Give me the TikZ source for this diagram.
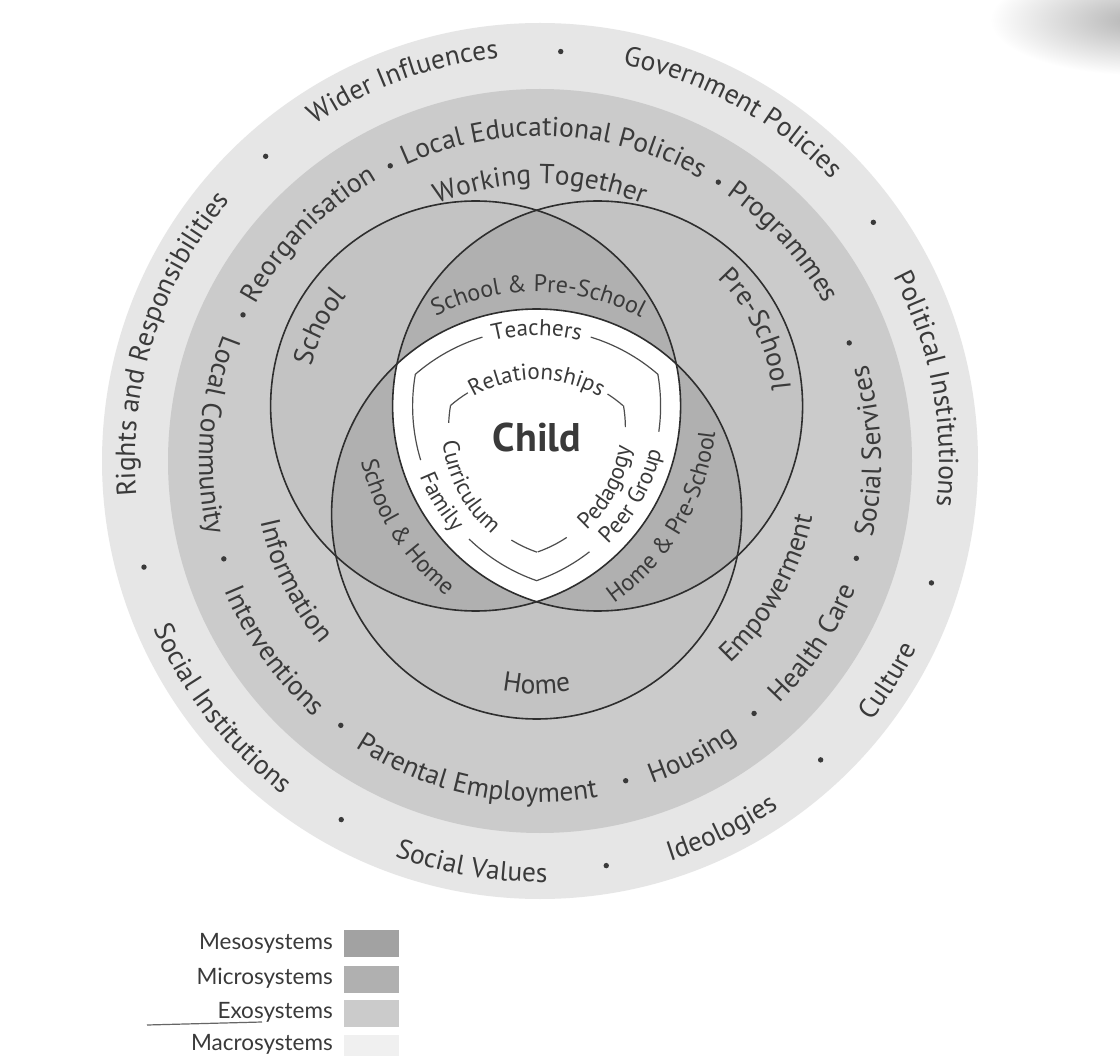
\documentclass[tikz,border=0pt]{standalone}
\usepackage{fontspec}
\setmainfont{PT Sans}
\newfontfamily\legfont{Lato}
\usetikzlibrary{decorations.text}
\definecolor{txt}{HTML}{3A3A3A}
\definecolor{macroc}{HTML}{E6E6E6}
\definecolor{exoc}{HTML}{CBCBCB}
\definecolor{microc}{HTML}{C3C3C3}
\definecolor{mesoc}{HTML}{B0B0B0}
\definecolor{lineclr}{HTML}{2E2E2E}
\newcommand\ringf{\color{txt}\fontsize{27.5}{33}\selectfont}
\newcommand\pairf{\color{txt}\fontsize{24}{29}\selectfont}
\newcommand\shieldf{\color{txt}\fontsize{23}{28}\selectfont}
\newcommand\arccw[4]{\path[decorate,decoration={text along path,text align=center,text={#4}}] (#1) ++({#3+75}:#2) arc[start angle={#3+75},end angle={#3-75},radius=#2];}
\newcommand\arcccw[4]{\path[decorate,decoration={text along path,text align=center,text={#4}}] (#1) ++({#3-75}:#2) arc[start angle={#3-75},end angle={#3+75},radius=#2];}
\tikzset{
  venn/.style={draw=lineclr,line width=1.6pt},
  shieldline/.style={draw=lineclr!85,line width=1.2pt},
  ringdot/.style={fill=txt},
  legtext/.style={font=\legfont\fontsize{22.5}{27}\selectfont,text=txt,anchor=east,inner sep=0pt},
  swatch/.style={anchor=west,minimum width=55pt,minimum height=27pt,inner sep=0pt},
}
\begin{document}
\begin{tikzpicture}[x=1pt,y=1pt]
\useasboundingbox (0,0) rectangle (1120,-1056);
\fill[white] (0,0) rectangle (1120,-1056);
\begin{scope}
\clip (0,0) rectangle (1120,-1056);
\shade[inner color=black!30,outer color=white] (1140,-20) ellipse[x radius=150,y radius=55];
\end{scope}
\coordinate (C) at (540,-461);
\coordinate (S) at (475.6,-406);
\coordinate (P) at (597.6,-406);
\coordinate (H) at (536.6,-514);
\coordinate (H2) at (536.7,-504.7);
\coordinate (P2) at (580,-428);
\coordinate (S2) at (494,-428);
% rings
\fill[macroc] (C) circle[radius=438];
\fill[exoc] (C) circle[radius=372];
% venn fills
\fill[microc] (S) circle[radius=205];
\fill[microc] (P) circle[radius=205];
\fill[microc] (H) circle[radius=205];
\begin{scope}\clip (S) circle[radius=205]; \fill[mesoc] (P) circle[radius=205]; \fill[mesoc] (H) circle[radius=205];\end{scope}
\begin{scope}\clip (P) circle[radius=205]; \fill[mesoc] (H) circle[radius=205];\end{scope}
\begin{scope}\clip (S) circle[radius=205]; \clip (P) circle[radius=205]; \fill[white] (H) circle[radius=205];\end{scope}
\draw[venn] (S) circle[radius=205];
\draw[venn] (P) circle[radius=205];
\draw[venn] (H) circle[radius=205];
% outer shield line
\draw[shieldline] (H) ++(131:185) arc[start angle=131,end angle=107,radius=185];
\draw[shieldline] (H) ++(73:185) arc[start angle=73,end angle=49,radius=185];
\draw[shieldline] (P) ++(170.1:185) arc[start angle=170.1,end angle=197,radius=185];
\draw[shieldline] (P) ++(226:185) arc[start angle=226,end angle=250.9,radius=185];
\draw[shieldline] (S) ++(-70.6:185) arc[start angle=-70.6,end angle=-52,radius=185];
\draw[shieldline] (S) ++(-8:185) arc[start angle=-8,end angle=9.9,radius=185];
% inner shield line
\draw[shieldline] (H2) ++(131:131.4) arc[start angle=131,end angle=121.6,radius=131.4];
\draw[shieldline] (H2) ++(57.4:131.4) arc[start angle=57.4,end angle=49,radius=131.4];
\draw[shieldline] (P2) ++(170.1:131.4) arc[start angle=170.1,end angle=177.8,radius=131.4];
\draw[shieldline] (P2) ++(238.5:131.4) arc[start angle=238.5,end angle=250.9,radius=131.4];
\draw[shieldline] (S2) ++(-70.6:131.4) arc[start angle=-70.6,end angle=-56.4,radius=131.4];
\draw[shieldline] (S2) ++(0.4:131.4) arc[start angle=0.4,end angle=9.9,radius=131.4];
% dots
\foreach \a in {132,87.1,35.6,-17.3,-46.8,-80.7,-119,-165} \fill[ringdot] (C) ++(\a:410) circle[radius=2.7];
\foreach \a in {116.9,153.8,-162.8,-127,-75,-49.7,-17.1,20.9,57.4} \fill[ringdot] (C) ++(\a:331) circle[radius=2.7];
% macro texts
\arccw{C}{405}{162.4}{|\ringf|Rights and Responsibilities}
\arccw{C}{405}{109.8}{|\ringf|Wider Influences}
\arccw{C}{405}{61.1}{|\ringf|Government Policies}
\arccw{C}{399}{10.5}{|\ringf|Political Institutions}
\arcccw{C}{421}{-32.3}{|\ringf|Culture}
\arcccw{C}{421}{-63.7}{|\ringf|Ideologies}
\arcccw{C}{421}{-99.6}{|\ringf|Social Values}
\arcccw{C}{421}{-142.1}{|\ringf|Social Institutions}
% exo texts
\arccw{C}{325}{135.6}{|\ringf|Reorganisation}
\arccw{C}{325}{87.4}{|\ringf|Local Educational Policies}
\arccw{C}{325}{41.9}{|\ringf|Programmes}
\arcccw{C}{341}{175.4}{|\ringf|Local Community}
\arcccw{C}{341}{-144.5}{|\ringf|Interventions}
\arcccw{C}{341}{-101.5}{|\ringf|Parental Employment}
\arcccw{C}{341}{-62.7}{|\ringf|Housing}
\arcccw{C}{341}{-33.7}{|\ringf|Health Care}
\arcccw{C}{341}{1.7}{|\ringf|Social Services}
% meso texts
\arccw{C}{277}{90}{|\ringf|Working Together}
\arcccw{C}{286}{-153.9}{|\ringf|Information}
\arcccw{C}{278}{-29.2}{|\ringf|Empowerment}
% venn labels
\arccw{S}{169}{153}{|\ringf|School}
\arccw{P}{175}{25.8}{|\ringf|Pre-School}
\arcccw{H}{180}{-90}{|\ringf|Home}
\arccw{H}{222}{89.5}{|\pairf|School {\&} Pre-School}
\arcccw{P}{243}{212.3}{|\pairf|School {\&} Home}
\arcccw{S}{241}{-30.6}{|\pairf|Home {\&} Pre-School}
% shield labels
\arccw{H}{178.5}{90}{|\shieldf|Teachers}
\arcccw{P}{191.5}{211.5}{|\shieldf|Family}
\arcccw{S}{191.5}{-30}{|\shieldf|Peer Group}
\arccw{H2}{125}{90}{|\shieldf|Relationships}
\arcccw{P2}{138}{208}{|\shieldf|Curriculum}
\arcccw{S2}{138}{-28}{|\shieldf|Pedagogy}
\node[font=\bfseries\fontsize{40}{48}\selectfont,text=txt] (child) at (537,-438) {Child};
% legend
\node[legtext] (lmeso) at (333,-943) {Mesosystems};
\node[legtext] (lmicro) at (333,-978) {Microsystems};
\node[legtext] (lexo) at (333,-1012) {Exosystems};
\node[legtext] (lmacro) at (333,-1044) {Macrosystems};
\node[swatch,fill=mesoc!92!black] (smeso) at (344,-943.5) {};
\node[swatch,fill=mesoc] (smicro) at (344,-979) {};
\node[swatch,fill=exoc] (sexo) at (344,-1013.5) {};
\node[swatch,fill=macroc!60] (smacro) at (344,-1048.5) {};
\coordinate (m1) at (147,-1025);
\coordinate (m2) at (262,-1022);
\draw[black!60,line width=1.2pt] (m1) -- (m2);
\end{tikzpicture}
\end{document}
